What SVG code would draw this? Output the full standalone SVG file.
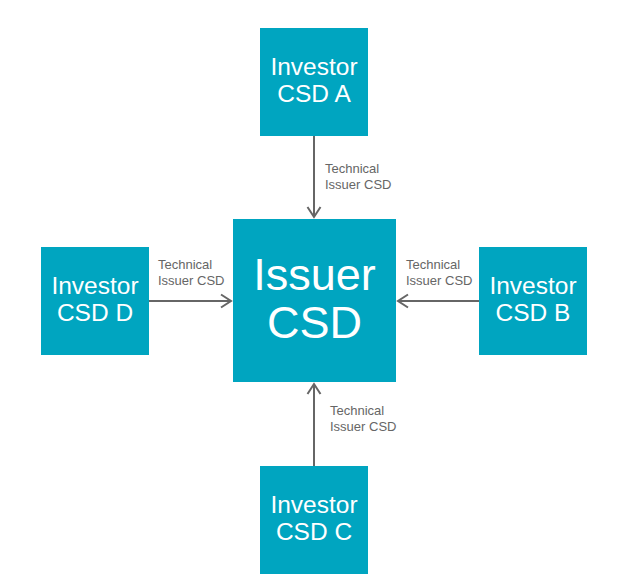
<svg xmlns="http://www.w3.org/2000/svg" width="628" height="586" viewBox="0 0 628 586">
<defs>
<style>
.box{fill:#00A5C0;}
.t{font-family:"Liberation Sans",Arial,sans-serif;fill:#ffffff;text-anchor:middle;}
.s{font-size:24.5px;}
.b{font-size:45px;}
.lbl{font-family:"Liberation Sans",Arial,sans-serif;font-size:13px;fill:#666666;}
.c{stroke:#666666;stroke-width:2;fill:none;}
</style>
<marker id="ah" markerUnits="userSpaceOnUse" markerWidth="16" markerHeight="16" viewBox="-12 -8 14 16" refX="0" refY="0" orient="auto">
<path d="M -10 -6.5 L 0 0 L -10 6.5" fill="none" stroke="#666666" stroke-width="2"/>
</marker>
</defs>
<rect width="628" height="586" fill="#ffffff"/>
<g id="connectors">
<line class="c" x1="314" y1="136" x2="314" y2="217" marker-end="url(#ah)"/>
<line class="c" x1="149" y1="301" x2="231" y2="301" marker-end="url(#ah)"/>
<line class="c" x1="479" y1="301" x2="398" y2="301" marker-end="url(#ah)"/>
<line class="c" x1="314" y1="466" x2="314" y2="384" marker-end="url(#ah)"/>
<text class="lbl" x="325" y="173">Technical</text>
<text class="lbl" x="325" y="188.5">Issuer CSD</text>
<text class="lbl" x="158" y="269">Technical</text>
<text class="lbl" x="158" y="284.5">Issuer CSD</text>
<text class="lbl" x="406" y="269">Technical</text>
<text class="lbl" x="406" y="284.5">Issuer CSD</text>
<text class="lbl" x="330" y="415">Technical</text>
<text class="lbl" x="330" y="430.5">Issuer CSD</text>
</g>
<g id="issuer">
<rect class="box" x="233" y="219" width="163" height="163"/>
<text class="t b" x="314.5" y="290">Issuer</text>
<text class="t b" x="314.5" y="338">CSD</text>
</g>
<g id="investorA">
<rect class="box" x="260" y="28" width="108" height="108"/>
<text class="t s" x="314" y="75">Investor</text>
<text class="t s" x="314" y="102">CSD A</text>
</g>
<g id="investorB">
<rect class="box" x="479" y="247" width="108" height="108"/>
<text class="t s" x="533" y="294">Investor</text>
<text class="t s" x="533" y="321">CSD B</text>
</g>
<g id="investorC">
<rect class="box" x="260" y="466" width="108" height="108"/>
<text class="t s" x="314" y="513">Investor</text>
<text class="t s" x="314" y="540">CSD C</text>
</g>
<g id="investorD">
<rect class="box" x="41" y="247" width="108" height="108"/>
<text class="t s" x="95" y="294">Investor</text>
<text class="t s" x="95" y="321">CSD D</text>
</g>
</svg>
